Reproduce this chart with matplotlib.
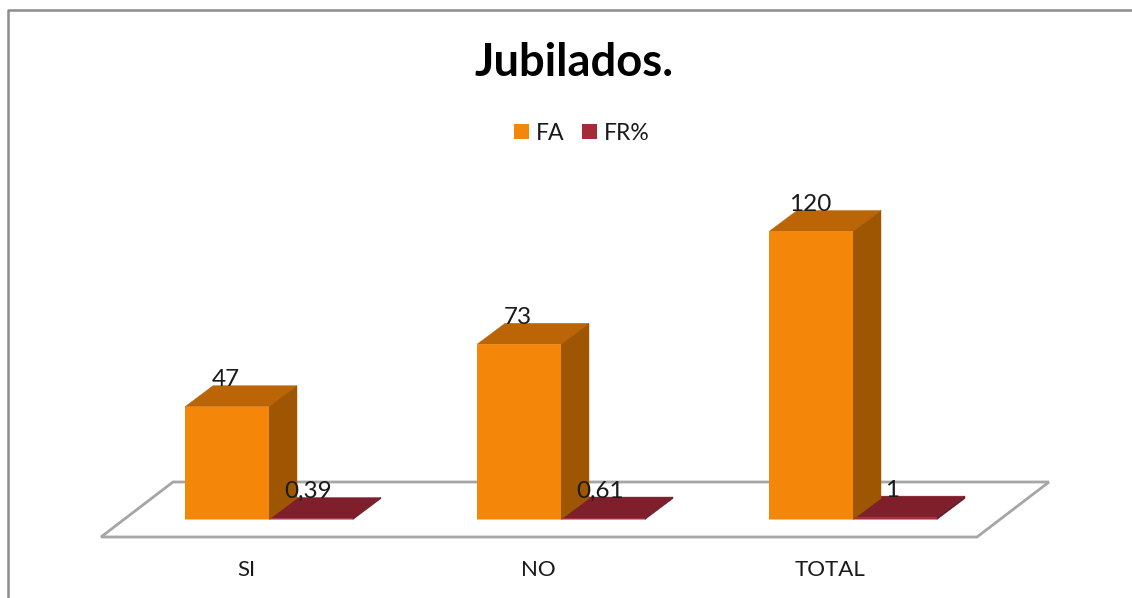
import matplotlib
matplotlib.use("Agg")
import matplotlib.pyplot as plt
from matplotlib.patches import Polygon, Patch
from matplotlib.lines import Line2D

categories = ["SI", "NO", "TOTAL"]
fa_values = [47, 73, 120]
fr_values = [0.39, 0.61, 1]
fr_labels = ["0,39", "0,61", "1"]
series_names = ["FA", "FR%"]
title = "Jubilados."

W, H = 1132, 598
plt.rcParams["font.family"] = ["Lato", "DejaVu Sans"]
fig = plt.figure(figsize=(W / 100, H / 100), dpi=100, facecolor="white")
ax = fig.add_axes([0, 0, 1, 1])

# pixel scale of the two axes
PX_CAT, X0 = 292.0, 247.0
PX_VAL, Y0 = 2.4, 519.5
ax.set_xlim((0 - X0) / PX_CAT, (W - X0) / PX_CAT)
ax.set_ylim((Y0 - H) / PX_VAL, Y0 / PX_VAL)
ax.axis("off")

dx = 28 / PX_CAT      # depth offset
dy = 21 / PX_VAL
bar_w = 84 / PX_CAT
off_fa = -62 / PX_CAT
off_fr = 22 / PX_CAT

ORANGE, ORANGE_TOP, ORANGE_SIDE = "#F4860A", "#BB6506", "#9E5603"
RED, RED_TOP, RED_SIDE = "#A52A3A", "#7F1F2B", "#6A1823"
GREY = "#A6A6A6"
TXT = "#1a1a1a"

# floor
n = len(categories)
fl = 17.5 / PX_VAL
bk = 37.5 / PX_VAL
floor = [(-0.5, -fl), (n - 0.5, -fl), (n - 0.5 + 72 / PX_CAT, bk), (-0.5 + 72 / PX_CAT, bk)]
ax.add_patch(Polygon(floor, closed=True, fc="white", ec=GREY, lw=2, zorder=1))


def bar3d(x, v, front, top, side):
    # top and side first, the front face last, so no seam shows on very short bars
    ax.add_patch(Polygon([(x, v), (x + bar_w, v), (x + bar_w + dx, v + dy), (x + dx, v + dy)],
                         closed=True, fc=top, ec=top, lw=0.3, zorder=3))
    ax.add_patch(Polygon([(x + bar_w, 0), (x + bar_w + dx, dy), (x + bar_w + dx, v + dy), (x + bar_w, v)],
                         closed=True, fc=side, ec=side, lw=0.3, zorder=3))
    for b in ax.bar(x, v, width=bar_w, align="edge", color=front, lw=0, zorder=3):
        b.set_snap(False)


lab_dy = 27 / PX_VAL
for i in range(n):
    xr = i + off_fr
    bar3d(xr, fr_values[i], RED, RED_TOP, RED_SIDE)
    xa = i + off_fa
    bar3d(xa, fa_values[i], ORANGE, ORANGE_TOP, ORANGE_SIDE)
    ax.text(xa + bar_w / 2 - 1 / PX_CAT, fa_values[i] + lab_dy, str(fa_values[i]), ha="center", va="center",
            fontsize=17.5, color=TXT, zorder=5)
    ax.text(xr + bar_w / 2 - 3 / PX_CAT, fr_values[i] + lab_dy, fr_labels[i], ha="center", va="center",
            fontsize=17.5, color=TXT, zorder=5)
    ax.text(i - 1 / PX_CAT, -50.5 / PX_VAL, categories[i], ha="center", va="center", fontsize=16, color=TXT)

fig.text(574 / W, 1 - 62.5 / H, title, ha="center", va="center", fontsize=32.7, fontweight="bold", color="black")

handles = [Patch(fc=ORANGE, ec="none"), Patch(fc=RED, ec="none")]
fig.legend(handles, series_names, loc="center", bbox_to_anchor=(582 / W, 1 - 133 / H), ncol=2,
           frameon=False, fontsize=16.6, handlelength=0.64, handleheight=0.64, handletextpad=0.32,
           columnspacing=0.75, borderpad=0, labelcolor=TXT)

# outer frame (runs off the top right and bottom of the picture)
fig.add_artist(Line2D([8 / W, 8 / W, 1], [0, 1 - 10 / H, 1 - 10 / H], color="#8C8C8C", lw=1.8))
fig.savefig("out.png", dpi=100)
